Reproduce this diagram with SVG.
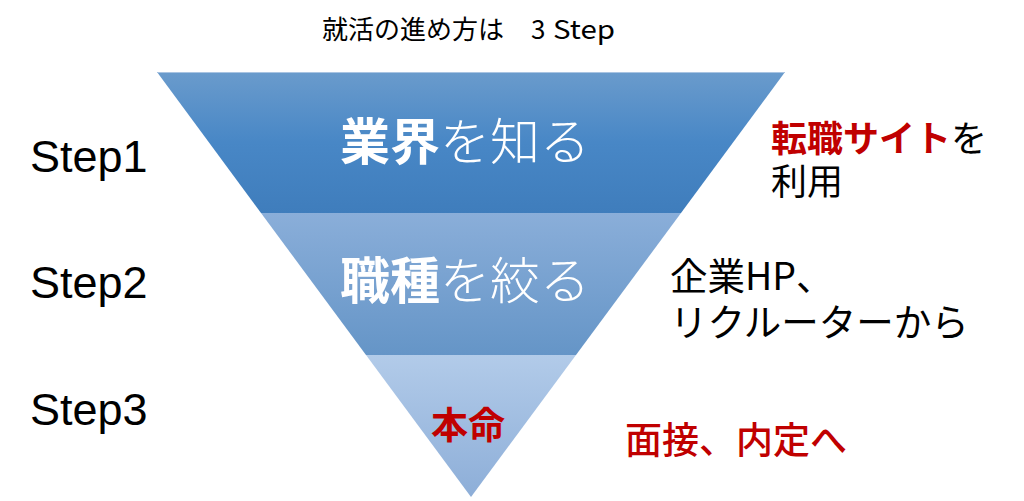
<svg xmlns="http://www.w3.org/2000/svg" width="1024" height="501" viewBox="0 0 1024 501">
<style>
.jp{font-family:"Noto Sans CJK JP","Liberation Sans",sans-serif;}
.step{font-family:"Liberation Sans",Arial,sans-serif;font-size:45px;fill:#000;}
.white{fill:#fff;font-size:50px;}
.light{font-weight:300;}
.red{fill:#c00000;font-weight:bold;}
.blk{fill:#000;}
</style>
<defs>
<linearGradient id="g1" x1="0" y1="0" x2="0" y2="1">
<stop offset="0" stop-color="#6a9bcc"/>
<stop offset="0.5" stop-color="#4887c6"/>
<stop offset="1" stop-color="#3f7dbc"/>
</linearGradient>
<linearGradient id="g2" x1="0" y1="0" x2="0" y2="1">
<stop offset="0" stop-color="#8aaed9"/>
<stop offset="1" stop-color="#6595c7"/>
</linearGradient>
<linearGradient id="g3" x1="0" y1="0" x2="0" y2="1">
<stop offset="0" stop-color="#b2cbe9"/>
<stop offset="1" stop-color="#8daed8"/>
</linearGradient>
</defs>
<rect width="1024" height="501" fill="#fff"/>
<text class="jp blk" x="322" y="39" font-size="26">就活の進め方は<tspan x="531">3</tspan><tspan x="553" textLength="62" lengthAdjust="spacingAndGlyphs">Step</tspan></text>
<g id="band1">
<polygon points="157,72 785,72 681,213 261,213" fill="url(#g1)"/>
<line x1="157" y1="72.5" x2="785" y2="72.5" stroke="#a9c4e2" stroke-width="1"/>
<text class="jp white" x="340" y="160"><tspan font-weight="bold">業界</tspan><tspan class="light">を知る</tspan></text>
</g>
<g id="band2">
<polygon points="261,213 681,213 576,355 366,355" fill="url(#g2)"/>
<text class="jp white" x="340" y="299"><tspan font-weight="bold">職種</tspan><tspan class="light">を絞る</tspan></text>
</g>
<g id="band3">
<polygon points="366,355 576,355 471,497" fill="url(#g3)"/>
<text class="jp red" x="431" y="439" font-size="37">本命</text>
</g>
<g id="steps">
<text class="step" x="30" y="172">Step1</text>
<text class="step" x="30" y="298">Step2</text>
<text class="step" x="30" y="425">Step3</text>
</g>
<g id="note1">
<text class="jp blk" x="771" y="152" font-size="36"><tspan class="red">転職サイト</tspan>を<tspan x="771" dy="43">利用</tspan></text>
</g>
<g id="note2">
<text class="jp blk" x="670" y="290" font-size="37.5">企業HP、<tspan x="670" dy="46">リクルーターから</tspan></text>
</g>
<g id="note3">
<text class="jp red" x="625" y="454" font-size="37" style="font-weight:500">面接、内定へ</text>
</g>
<g id="connectors"></g>
</svg>
